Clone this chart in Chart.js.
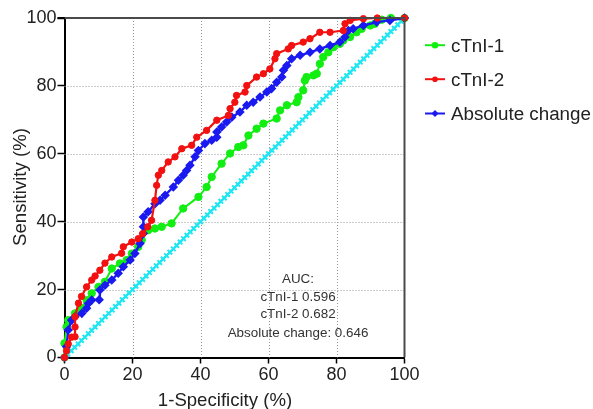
<!DOCTYPE html>
<html><head><meta charset="utf-8">
<script src="https://cdn.jsdelivr.net/npm/chart.js@4"></script>
<style>html,body{margin:0;padding:0;background:#fff}#wrap{width:593px;height:409px;position:relative}</style>
</head><body><div id="wrap"><canvas id="c" width="593" height="409"></canvas></div>
<script>
const seriesNames = ['cTnI-1', 'cTnI-2', 'Absolute change'];
const xTicks = [0, 20, 40, 60, 80, 100];
const yTicks = [0, 20, 40, 60, 80, 100];
const xTitle = '1-Specificity (%)';
const yTitle = 'Sensitivity (%)';
const aucLines = ['AUC:', 'cTnI-1 0.596', 'cTnI-2 0.682', 'Absolute change: 0.646'];

const cTnI1X = [0,0,0.6,1.1,3.1,5.1,6.5,8,10,11.9,13.9,16.3,18.3,19.8,21.7,22.7,24.6,26.6,28.6,31.5,34.9,39.4,41.8,43.3,46.2,48.7,51.1,52.6,54.1,56.5,58.5,62.4,63.4,65.4,68.3,68.8,70.2,70.7,71.2,73.2,74.2,75.1,76.1,77.6,79.1,81,82,84,85.9,87.4,89.9,91.3,93.3,96,100];
const cTnI1Y = [0,4.2,9,11,13,14.5,16.9,18.9,20.8,22.3,26.2,27.7,28.7,30.6,32.6,34.6,37.5,38,38.5,39.5,43.9,47.3,50.2,53.2,57.1,60.1,62,62.5,65.4,67.4,68.9,70.4,72.8,74.3,75.2,76.7,78.7,81.6,82.6,83.1,83.6,86.5,88.5,89.9,91.4,92.4,93.4,94.4,95.8,96.8,97.8,98.3,99.5,100,100];

const cTnI2X = [0,0.6,1.1,2.1,3.1,3.1,3.1,4.1,5,6.5,8,9,10.4,11.9,13.9,16.8,17.3,19.8,21.7,23,24.5,25.6,26.6,27.1,27.6,28.6,30.5,32.5,34.5,37.4,38.9,41.8,44.8,48.2,48.7,50.1,50.6,53.1,53.6,56.5,58.5,60.4,61.9,62.4,65.8,66.8,70.2,72.2,75.1,78.1,82,82.5,84,87.9,92,100];
const cTnI2Y = [0,2,4,6,6.1,9,12,16,18,20.8,22.8,24,25.7,27.8,29.6,30.7,32.6,34,35,36.5,38.5,40.4,46.3,50.7,53.7,55.1,57.6,59.1,61.5,62.5,64.9,66.9,69.9,71.3,73.3,75.2,77.2,78.2,80.1,82.6,83.6,85,88,89.5,90.9,91.9,92.9,93.9,95.8,95.8,96.3,98.3,99.3,99.8,100,100];

const absX = [0,0.6,1.1,2.1,3.1,5.1,6.5,7,8,10.2,10.4,11.9,13.9,15.8,17.3,19.3,20.7,22.2,23.2,23.2,23.2,24.6,26.6,28.1,29.6,32,33.5,34.9,35.9,36.9,38.4,39.4,41.3,43.3,44.8,44.8,46.2,47.7,49.2,51.6,53.6,55.5,57.5,59.5,60.9,62.4,63.9,64.4,65.4,66.8,69.3,72.2,75.1,78.1,81,82.5,83.5,84.9,87.9,91.8,95.7,100];
const absY = [0,3.2,8.1,11,12,13,14.5,15.9,16.9,17,19.9,21.3,22.8,24.8,26.7,28.7,30.6,33.6,36.5,38.5,41.4,42.9,45.3,46.3,47.8,50.2,52.2,53.7,55.1,56.6,59.1,61,63,64,64.9,66.4,67.9,69.4,70.8,72.3,74.3,75.2,76.7,78.2,79.2,81.1,82.6,84.6,86,88,89,89.9,90.9,91.9,92.9,94.4,96.3,96.8,97.8,98.8,99.3,100];

const diagX = [0,1,2,3,4,5,6,7,8,9,10,11,12,13,14,15,16,17,18,19,20,21,22,23,24,25,26,27,28,29,30,31,32,33,34,35,36,37,38,39,40,41,42,43,44,45,46,47,48,49,50,51,52,53,54,55,56,57,58,59,60,61,62,63,64,65,66,67,68,69,70,71,72,73,74,75,76,77,78,79,80,81,82,83,84,85,86,87,88,89,90,91,92,93,94,95,96,97,98,99,100];
const diagY = diagX;

const green = '#12ee12', red = '#f21010', blue = '#1a1af0', cyan = '#1ee6f2';
const pts = (X, Y) => X.map((x, i) => ({x: x, y: Y[i]}));

const FONT = '"Liberation Sans", Arial, Helvetica, sans-serif';

const extras = {
  id: 'extras',
  beforeDatasetsDraw(chart) {
    const {ctx, chartArea: a, scales: {x, y}} = chart;
    ctx.save();
    ctx.strokeStyle = '#9a9a9a';
    ctx.lineWidth = 1;
    ctx.setLineDash([1, 2]);
    [20, 40, 60, 80].forEach(v => {
      const px = Math.round(x.getPixelForValue(v)) + 0.5;
      ctx.beginPath(); ctx.moveTo(px, a.top); ctx.lineTo(px, a.bottom); ctx.stroke();
      const py = Math.round(y.getPixelForValue(v)) + 0.5;
      ctx.beginPath(); ctx.moveTo(a.left, py); ctx.lineTo(a.right, py); ctx.stroke();
    });
    ctx.restore();
  },
  afterDatasetsDraw(chart) {
    const {ctx, chartArea: a} = chart;
    ctx.save();
    ctx.strokeStyle = '#4a4a4a';
    ctx.lineWidth = 2;
    ctx.beginPath();
    ctx.moveTo(a.left, a.top); ctx.lineTo(a.right, a.top); ctx.lineTo(a.right, a.bottom);
    ctx.stroke();
    ctx.strokeStyle = '#000';
    ctx.beginPath(); ctx.moveTo(a.left - 7, a.top); ctx.lineTo(a.left, a.top); ctx.stroke();

    // axis titles
    ctx.fillStyle = '#222';
    ctx.font = '18.6px ' + FONT;
    ctx.textAlign = 'center';
    ctx.textBaseline = 'alphabetic';
    ctx.fillText(xTitle, 225, 406);
    ctx.save();
    ctx.translate(26, 187);
    ctx.rotate(-Math.PI / 2);
    ctx.fillText(yTitle, 0, 0);
    ctx.restore();

    // AUC annotation
    ctx.fillStyle = '#333';
    ctx.font = '13.4px ' + FONT;
    const bl = [282.5, 300.7, 318.2, 336.5];
    aucLines.forEach((t, i) => ctx.fillText(t, 298, bl[i]));

    // legend
    const ds = chart.data.datasets;
    const lb = [51.7, 85.7, 120];
    ctx.font = '18.8px ' + FONT;
    ctx.textAlign = 'left';
    for (let i = 0; i < 3; i++) {
      const d = ds[i];
      const yy = lb[i] - 6.5;
      ctx.strokeStyle = d.borderColor;
      ctx.fillStyle = d.borderColor;
      ctx.lineWidth = 2;
      ctx.beginPath(); ctx.moveTo(425, yy); ctx.lineTo(445, yy); ctx.stroke();
      ctx.beginPath();
      if (d.pointStyle === 'rectRot') {
        ctx.moveTo(435, yy - 3.5); ctx.lineTo(438.5, yy); ctx.lineTo(435, yy + 3.5); ctx.lineTo(431.5, yy); ctx.closePath();
      } else {
        ctx.arc(435, yy, i === 0 ? 3.3 : 2.8, 0, Math.PI * 2);
      }
      ctx.fill();
      ctx.fillStyle = '#222';
      ctx.fillText(seriesNames[i], 451, lb[i]);
    }
    ctx.restore();
  }
};

new Chart(document.getElementById('c'), {
  type: 'line',
  data: {
    datasets: [
      {label: seriesNames[0], data: pts(cTnI1X, cTnI1Y), borderColor: green, backgroundColor: green,
       pointBackgroundColor: green, pointBorderColor: green, pointRadius: 3.7, pointBorderWidth: 1,
       borderWidth: 2, pointStyle: 'circle', order: 3, clip: false},
      {label: seriesNames[1], data: pts(cTnI2X, cTnI2Y), borderColor: red, backgroundColor: red,
       pointBackgroundColor: red, pointBorderColor: red, pointRadius: 3.2, pointBorderWidth: 1,
       borderWidth: 2.2, pointStyle: 'circle', order: 1, clip: false},
      {label: seriesNames[2], data: pts(absX, absY), borderColor: blue, backgroundColor: blue,
       pointBackgroundColor: blue, pointBorderColor: blue, pointRadius: 3.7, pointBorderWidth: 1.5,
       borderWidth: 2.4, pointStyle: 'rectRot', order: 2, clip: false},
      {label: 'Reference', data: pts(diagX, diagY), borderColor: cyan, backgroundColor: cyan,
       pointBackgroundColor: cyan, pointBorderColor: cyan, pointRadius: 3.2, pointBorderWidth: 2,
       borderWidth: 2, pointStyle: 'crossRot', order: 4, clip: false}
    ]
  },
  options: {
    responsive: false,
    animation: false,
    events: [],
    parsing: true,
    layout: {padding: {top: 18, right: 188.5, left: 0, bottom: 0}},
    plugins: {legend: {display: false}, tooltip: {enabled: false}},
    scales: {
      x: {
        type: 'linear', min: 0, max: 100,
        afterBuildTicks: s => { s.ticks = xTicks.map(v => ({value: v})); },
        afterFit: s => { s.height = 51.5; },
        ticks: {color: '#222', font: {size: 18, family: FONT}, padding: 1, maxRotation: 0, autoSkip: false},
        grid: {drawOnChartArea: false, drawTicks: true, tickLength: 6, tickColor: '#000', tickWidth: 1.5},
        border: {display: true, color: '#000', width: 2}
      },
      y: {
        type: 'linear', min: 0, max: 100,
        afterBuildTicks: s => { s.ticks = yTicks.map(v => ({value: v})); },
        afterFit: s => { s.width = 64.5; },
        ticks: {color: '#222', font: {size: 18, family: FONT}, padding: 1, autoSkip: false},
        grid: {drawOnChartArea: false, drawTicks: true, tickLength: 7, tickColor: '#000', tickWidth: 1.5},
        border: {display: true, color: '#000', width: 2}
      }
    }
  },
  plugins: [extras]
});
</script>
</body></html>
